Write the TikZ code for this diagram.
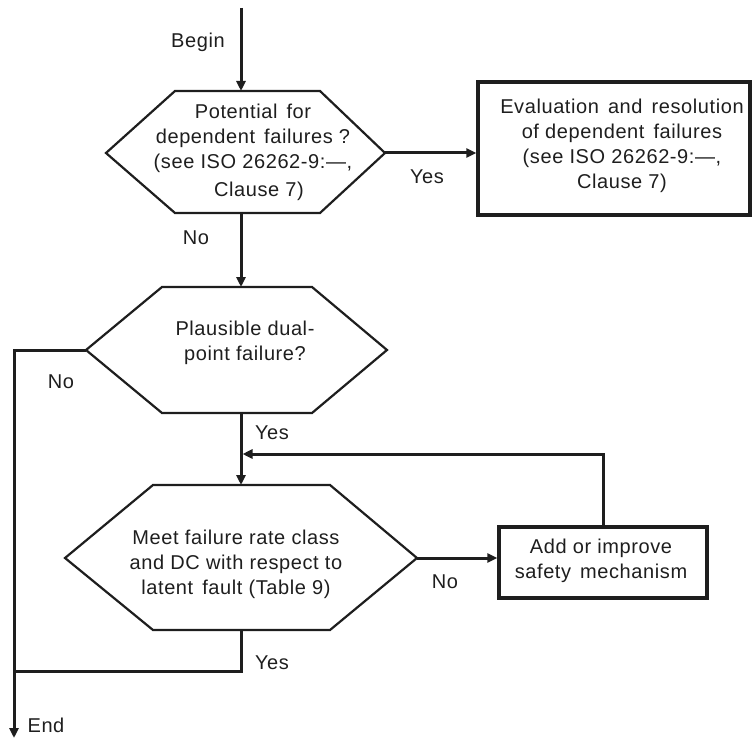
\documentclass[tikz,border=0pt]{standalone}
\usepackage{fontspec}
\setmainfont{Liberation Sans}[LetterSpace=3]
\usetikzlibrary{arrows.meta}
\definecolor{ink}{HTML}{1E1E1E}
\newcommand{\wgap}{\hspace{0.45em}}
\begin{document}
\begin{tikzpicture}[x=1pt,y=-1pt,
  flow/.style={line width=3pt, draw=ink},
  arr/.style={flow, -{Triangle[length=10pt,width=9pt]}},
  hexline/.style={line width=2.2pt, draw=ink, line join=miter},
  boxline/.style={draw=ink, line width=3.3pt, inner sep=0pt},
  txt/.style={font=\fontsize{20}{25}\selectfont, align=center, text=ink, inner sep=0pt},
  lbl/.style={font=\fontsize{20}{23}\selectfont, text=ink, inner sep=0pt}]
\useasboundingbox (0,0) rectangle (753,741);

% decision 1
\coordinate (h1w) at (106,153);
\coordinate (h1e) at (385,153);
\coordinate (h1n) at (241,91);
\coordinate (h1s) at (241,213);
\draw[hexline] (h1w) -- (175,91) -- (320,91) -- (h1e) -- (320,213) -- (175,213) -- cycle;
\node[txt] (h1) at (253,152) {Potential\wgap for\\dependent\wgap failures ?\\(see ISO 26262-9:—,\\[3pt]\hspace{0.6em}Clause 7)};

% decision 2
\coordinate (h2w) at (86,350);
\coordinate (h2e) at (387,350);
\coordinate (h2n) at (241,287);
\coordinate (h2s) at (241,413);
\draw[hexline] (h2w) -- (162,287) -- (312,287) -- (h2e) -- (312,413) -- (162,413) -- cycle;
\node[txt] (h2) at (245,343) {Plausible dual-\\point failure?};

% decision 3
\coordinate (h3w) at (65,558);
\coordinate (h3e) at (417,558);
\coordinate (h3n) at (241,485);
\coordinate (h3s) at (241,630);
\draw[hexline] (h3w) -- (153,485) -- (330,485) -- (h3e) -- (330,630) -- (153,630) -- cycle;
\node[txt] (h3) at (236,564) {Meet failure rate class\\and DC with respect to\\latent\wgap fault (Table 9)};

% process boxes
\node[boxline, minimum width=272pt, minimum height=133pt] (b1) at (614,148.5) {};
\node[txt] (b1t) at (622,146) {Evaluation\wgap and\wgap resolution\\of dependent\wgap failures\\(see ISO 26262-9:—,\\Clause 7)};
\node[boxline, minimum width=208pt, minimum height=71pt] (b2) at (603,562.5) {};
\node[txt] (b2t) at (601,561) {Add or improve\\safety\wgap mechanism};

% connectors
\coordinate (start) at (241,8);
\coordinate (endpt) at (14,738);
\coordinate (loop) at (603,454);
\coordinate (join) at (241,671);
\draw[arr] (start) -- (h1n);
\draw[arr] (h1e) -- (h1e -| b1.west);
\draw[arr] (h1s) -- (h2n);
\draw[arr] (h2w) -| (endpt);
\draw[arr] (h2s) -- (h3n);
\draw[arr] (h3e) -- (h3e -| b2.west);
\draw[arr] (b2.north -| loop) -- (loop) -- ([xshift=1.5pt]loop -| h2s);
\draw[flow] (h3s) -- (join) -- (join -| endpt);

% labels
\node[lbl] (lbegin) at (198,42) {Begin};
\node[lbl] (lyes1) at (427,177) {Yes};
\node[lbl] (lno1) at (196,238) {No};
\node[lbl] (lno2) at (61,382) {No};
\node[lbl] (lyes2) at (272,433) {Yes};
\node[lbl] (lno3) at (445,582) {No};
\node[lbl] (lyes3) at (272,663) {Yes};
\node[lbl] (lend) at (46,725) {End};
\end{tikzpicture}
\end{document}
